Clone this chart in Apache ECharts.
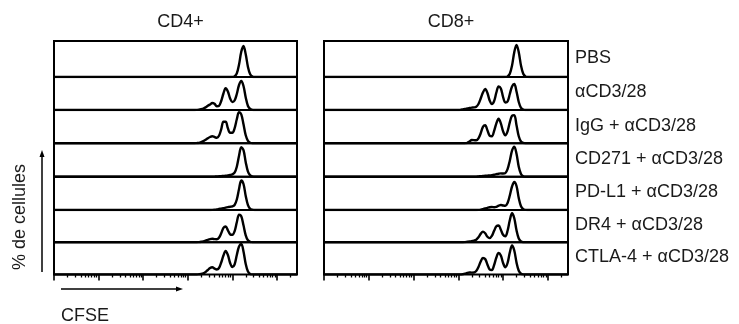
<!DOCTYPE html>
<html><head><meta charset="utf-8">
<script src="https://cdn.jsdelivr.net/npm/echarts@6/dist/echarts.min.js"></script>
<style>html,body{margin:0;padding:0;background:#fff}#c{width:739px;height:324px}</style>
</head><body><div id="c"></div>
<script>
// ---- data ----
const panels = ['CD4+', 'CD8+'];
const conditions = ['PBS', 'αCD3/28', 'IgG + αCD3/28', 'CD271 + αCD3/28', 'PD-L1 + αCD3/28', 'DR4 + αCD3/28', 'CTLA-4 + αCD3/28'];
const yLabel = '% de cellules';
const xLabel = 'CFSE';
// CFSE sampling positions (log10 fluorescence)
const cfseLog = [3.00,3.05,3.10,3.15,3.20,3.25,3.30,3.35,3.40,3.45,3.50,3.55,3.60,3.65,3.70,3.75,3.80,3.85,3.90,3.95,4.00,4.05,4.10,4.15,4.20,4.25,4.30,4.35,4.40,4.45,4.50,4.55,4.60];
const cfseRange = [0, 5.45];
const majorDecades = [0, 1, 2, 3, 4, 5];
const minorMultipliers = [2, 3, 4, 5, 6, 7, 8, 9];

// CD4+ histograms (cell counts, relative)
const cd4_PBS   = [0,0,0,0,0,0,0,0,0,0, 0,0,0,0,0,0,0,0,0,0, 0.1,0.6,3.6,12.4,25.2,31,22.7,10.1,2.7,0.4, 0,0,0];
const cd4_aCD3  = [0,0,0,0,0.1,0.3,0.8,1.5,2.6,4.2, 5.6,7.0,6.2,3.8,4.2,9.0,16.5,21.8,18.5,11.5, 8.0,9.5,16.0,25.0,29.0,24.0,12.5,4.0,1.0,0.2, 0,0,0];
const cd4_IgG   = [0,0,0,0,0.2,0.5,1.2,2.2,3.5,5.0, 6.3,7.0,6.3,5.5,7.5,14.0,21.5,21.5,15.0,10.5, 10.5,15.0,24.0,31.0,29.0,19.0,8.0,2.5,0.6,0.1, 0,0,0];
const cd4_CD271 = [0,0,0,0,0,0,0,0,0,0, 0,0,0.1,0.2,0.4,0.6,0.8,1.0,1.3,1.7, 2.3,4.0,10.0,21.0,29.5,26.5,14.5,5.0,1.3,0.3, 0,0,0];
const cd4_PDL1  = [0,0,0,0,0,0,0,0,0,0, 0,0.1,0.3,0.6,1.0,1.4,1.8,2.3,2.8,3.3, 3.6,5.0,10.5,21.0,29.5,26.0,14.0,4.8,1.2,0.3, 0,0,0];
const cd4_DR4   = [0,0,0,0,0,0.2,0.5,1.0,1.7,2.5, 3.2,3.5,3.2,3.0,4.5,9.0,14.5,15.8,12.0,8.0, 7.5,11.0,20.0,27.5,26.0,17.0,7.0,2.0,0.5,0.1, 0,0,0];
const cd4_CTLA4 = [0,0,0,0,0,0.2,0.5,1.2,2.5,4.5, 6.5,7.2,6.0,5.0,6.5,12.0,19.0,23.5,19.5,11.5, 7.5,10.0,19.5,28.0,30.5,23.0,10.5,3.0,0.6,0.1, 0,0,0];

// CD8+ histograms
const cd8_PBS   = [0,0,0,0,0,0,0,0,0,0, 0,0,0,0,0,0,0,0,0,0, 0,0.1,0.6,3.2,11.5,24.8,32,24.8,11.5,3.2, 0.6,0.1,0];
const cd8_aCD3  = [0,0.2,0.6,1.0,1.5,2.0,2.4,2.6,3.2,6.0, 11.5,17.5,21.0,17.0,9.5,6.0,9.0,17.5,23.5,21.5, 13.0,7.5,8.5,16.0,23.5,26.0,18.5,8.0,2.2,0.5, 0,0,0];
const cd8_IgG   = [0,0,0,0.1,0.5,1.8,3.3,3.2,3.0,5.0, 10.0,16.5,18.0,13.0,7.5,7.0,12.5,20.0,24.5,20.0, 12.0,8.0,12.0,21.0,27.5,28.0,18.0,7.0,1.8,0.4, 0,0,0];
const cd8_CD271 = [0,0,0,0,0,0,0,0,0.1,0.3, 0.5,0.7,0.9,1.1,1.3,1.6,2.0,2.5,3.0,3.3, 3.2,3.6,7.5,16.0,26.0,30.0,23.0,10.0,2.8,0.5, 0,0,0];
const cd8_PDL1  = [0,0,0,0,0,0,0,0,0,0.1, 0.4,0.9,1.5,2.2,2.8,3.0,2.8,3.2,4.3,5.0, 4.5,4.2,7.0,14.5,23.5,28.0,24.0,12.0,3.8,0.8, 0.1,0,0];
const cd8_DR4   = [0,0,0,0.2,0.5,0.8,1.2,1.7,2.6,5.0, 8.5,10.7,9.0,5.5,4.2,6.5,11.5,16.0,16.8,12.5, 7.5,6.0,11.5,22.0,29.0,24.0,12.0,3.8,0.8,0.1, 0,0,0];
const cd8_CTLA4 = [0,0,0.3,0.8,1.6,2.0,1.9,2.0,3.5,7.5, 13.0,16.5,15.5,10.0,5.0,4.5,9.5,17.0,21.5,19.0, 11.5,7.2,11.5,22.0,29.0,24.0,12.0,3.8,0.8,0.1, 0,0,0];

const panelData = [
  [cd4_PBS, cd4_aCD3, cd4_IgG, cd4_CD271, cd4_PDL1, cd4_DR4, cd4_CTLA4],
  [cd8_PBS, cd8_aCD3, cd8_IgG, cd8_CD271, cd8_PDL1, cd8_DR4, cd8_CTLA4]
];

// ---- layout ----
const FONT = '"Liberation Sans", Arial, sans-serif';
const panelLeft = [54, 324];
const panelWidth = [243, 244];
const rowEdges = [41, 77, 110, 143.3, 176.7, 210, 242.3, 274.5];

const grids = [], xAxes = [], yAxes = [], series = [];
const minorTicks = [];
majorDecades.forEach(d => { minorMultipliers.forEach(m => { const v = d + Math.log10(m); if (v < cfseRange[1]) minorTicks.push(v); }); });

panels.forEach((p, pi) => {
  conditions.forEach((c, ri) => {
    const gi = grids.length;
    const h = rowEdges[ri + 1] - rowEdges[ri];
    grids.push({left: panelLeft[pi], top: rowEdges[ri], width: panelWidth[pi], height: h,
      show: true, borderColor: '#000', borderWidth: 2, backgroundColor: 'transparent'});
    const isBottom = ri === conditions.length - 1;
    xAxes.push({gridIndex: gi, type: 'value', min: cfseRange[0], max: cfseRange[1], position: 'bottom',
      show: isBottom, axisLine: {show: false}, axisLabel: {show: false}, splitLine: {show: false},
      axisTick: {show: true, customValues: majorDecades, length: 6, lineStyle: {color: '#000', width: 1.6}}});
    yAxes.push({gridIndex: gi, type: 'value', min: 0, max: h, show: false});
    const pts = [[cfseRange[0], 0]];
    cfseLog.forEach((x, k) => pts.push([x, panelData[pi][ri][k]]));
    pts.push([cfseRange[1], 0]);
    series.push({type: 'line', xAxisIndex: gi, yAxisIndex: gi, data: pts, showSymbol: false, smooth: 0.35,
      lineStyle: {color: '#000', width: 2.4}, z: 3, animation: false, silent: true});
  });
});
// minor tick axes for the bottom rows
panels.forEach((p, pi) => {
  const gi = pi * conditions.length + conditions.length - 1;
  xAxes.push({gridIndex: gi, type: 'value', min: cfseRange[0], max: cfseRange[1], position: 'bottom',
    axisLine: {show: false}, axisLabel: {show: false}, splitLine: {show: false},
    axisTick: {show: true, customValues: minorTicks, length: 3, lineStyle: {color: '#000', width: 1.3}}});
});

const textStyle = (txt, x, y, align, extra) => Object.assign({type: 'text', x: x, y: y,
  style: {text: txt, fill: '#1a1a1a', font: '18px ' + FONT, textAlign: align, textVerticalAlign: 'middle'}}, extra || {});

const graphics = [];
panels.forEach((p, pi) => graphics.push(textStyle(p, panelLeft[pi] + panelWidth[pi] / 2 + 5, 22, 'center')));
conditions.forEach((c, ri) => graphics.push(textStyle(c, 575, (rowEdges[ri] + rowEdges[ri + 1]) / 2 - 1, 'left')));
graphics.push(textStyle(xLabel, 61, 316, 'left'));
graphics.push(textStyle(yLabel, 20, 217, 'center', {rotation: Math.PI / 2}));
// axis direction arrows
graphics.push({type: 'line', shape: {x1: 42, y1: 272, x2: 42, y2: 155}, style: {stroke: '#000', lineWidth: 1.5}});
graphics.push({type: 'polygon', shape: {points: [[42, 150], [39.5, 157], [44.5, 157]]}, style: {fill: '#000'}});
graphics.push({type: 'line', shape: {x1: 61, y1: 289, x2: 178, y2: 289}, style: {stroke: '#000', lineWidth: 1.5}});
graphics.push({type: 'polygon', shape: {points: [[183, 289], [176, 286.5], [176, 291.5]]}, style: {fill: '#000'}});

const chart = echarts.init(document.getElementById('c'), null, {renderer: 'canvas'});
chart.setOption({
  animation: false,
  backgroundColor: '#fff',
  grid: grids, xAxis: xAxes, yAxis: yAxes, series: series,
  graphic: graphics
});
</script></body></html>
